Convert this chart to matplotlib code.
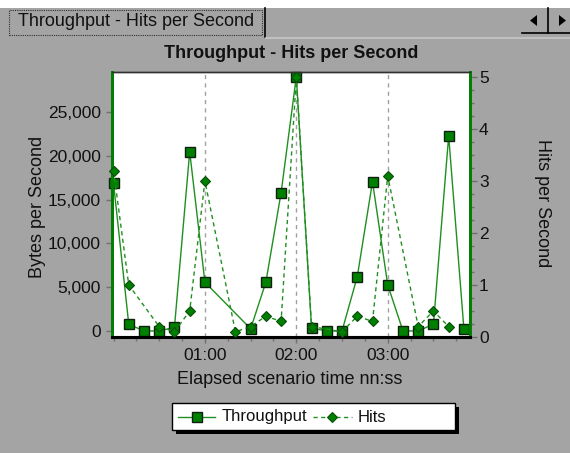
import matplotlib
matplotlib.use("Agg")
import matplotlib.pyplot as plt
from matplotlib.patches import Rectangle, Polygon
from matplotlib.lines import Line2D
from matplotlib.ticker import FixedLocator, MultipleLocator, FuncFormatter

# ---------------- data ----------------
times_throughput = [0, 10, 20, 30, 40, 50, 60, 90, 100, 110, 120, 130, 140, 150,
                    160, 170, 180, 190, 200, 210, 220, 230]
throughput = [16880, 770, 0, 0, 420, 20490, 5570, 250, 5570, 15800, 29060, 310, 0, 0,
              6200, 17060, 5260, 0, 0, 770, 22290, 230]

times_hits = [0, 10, 30, 40, 50, 60, 80, 90, 100, 110, 120, 130, 150, 160, 170,
              180, 200, 210, 220]
hits = [3.2, 1.0, 0.2, 0.1, 0.5, 3.0, 0.1, 0.2, 0.4, 0.3, 5.0, 0.2, 0.1, 0.4, 0.3,
        3.1, 0.2, 0.5, 0.2]

x_major_ticks = [60, 120, 180]
x_tick_labels = ["01:00", "02:00", "03:00"]
left_ticks = [0, 5000, 10000, 15000, 20000, 25000]
left_tick_labels = ["0", "5,000", "10,000", "15,000", "20,000", "25,000"]
right_ticks = [0, 1, 2, 3, 4, 5]

chart_title = "Throughput - Hits per Second"
tab_title = "Throughput - Hits per Second"
x_label = "Elapsed scenario time nn:ss"
y_left_label = "Bytes per Second"
y_right_label = "Hits per Second"
series_names = ["Throughput", "Hits"]

# ---------------- styling ----------------
W, H = 570, 453
BG = "#a4a4a4"
GREEN = "#008000"
LINE_GREEN = "#1f8f1f"
TXT = "#111111"
FONT = "Liberation Sans"
plt.rcParams["font.family"] = [FONT, "DejaVu Sans"]

fig = plt.figure(figsize=(W / 100, H / 100), dpi=100, facecolor=BG)


def P(x, y):
    return (x / W, 1 - y / H)


# plot area in pixels
L, R, T, B = 112, 470, 72, 337
ax = fig.add_axes([L / W, 1 - B / H, (R - L) / W, (B - T) / H])
ax.set_facecolor("white")
ax2 = ax.twinx()

ax.plot(times_throughput, throughput, color=LINE_GREEN, lw=1.0, ls="-",
        marker="s", markersize=7.5, markerfacecolor=GREEN,
        markeredgecolor="#102010", markeredgewidth=1.0, zorder=3, clip_on=False)
ax2.plot(times_hits, hits, color=LINE_GREEN, lw=1.0, ls=(0, (3, 2.5)),
         marker="D", markersize=5, markerfacecolor=GREEN,
         markeredgecolor="#0a4d0a", markeredgewidth=0.8, zorder=3, clip_on=False)

ax.set_xlim(-1, 234)
ax.set_ylim(-690, 29600)
ax2.set_ylim(0, 5.096)

ax.xaxis.set_major_locator(FixedLocator(x_major_ticks))
ax.set_xticklabels(x_tick_labels)
ax.xaxis.set_minor_locator(MultipleLocator(15))
ax.yaxis.set_major_locator(FixedLocator(left_ticks))
ax.set_yticklabels(left_tick_labels)
ax2.yaxis.set_major_locator(FixedLocator(right_ticks))
ax2.yaxis.set_minor_locator(MultipleLocator(0.25))

ax.grid(axis="x", which="major", color="#a0a0a0", ls=(0, (3, 3)), lw=1.0)
ax.set_axisbelow(True)

ax.tick_params(axis="x", which="major", length=4, width=1, color="#707070",
               labelsize=12.5, labelcolor=TXT, pad=4)
ax.tick_params(axis="x", which="minor", length=3, width=1, color="#707070")
ax.tick_params(axis="y", which="major", length=4, width=1, color="#707070",
               labelsize=12.5, labelcolor=TXT, pad=4)
ax2.tick_params(axis="y", which="major", length=5, width=1, color="#707070",
                labelsize=12.5, labelcolor=TXT, pad=1.5)
ax2.tick_params(axis="y", which="minor", length=3, width=1, color="#707070")

for a in (ax, ax2):
    a.spines["left"].set_color(GREEN)
    a.spines["left"].set_linewidth(2)
    a.spines["right"].set_color(GREEN)
    a.spines["right"].set_linewidth(2)
    a.spines["bottom"].set_color("black")
    a.spines["bottom"].set_linewidth(2.2)
    a.spines["top"].set_color("#303030")
    a.spines["top"].set_linewidth(1)

# texts
fig.text(*P(291, 53), chart_title, ha="center", va="center", fontsize=13,
         fontweight="bold", color=TXT)
fig.text(*P(38, 207), y_left_label, ha="center", va="center", rotation=90,
         fontsize=13, color=TXT)
fig.text(*P(543, 203), y_right_label, ha="center", va="center", rotation=270,
         fontsize=13, color=TXT)
fig.text(*P(290, 379), x_label, ha="center", va="center", fontsize=13, color=TXT)

# ---------- window chrome (top strip, tab, scroll buttons) ----------
def rect_px(x0, y0, x1, y1, **kw):
    r = Rectangle(P(x0, y1), (x1 - x0) / W, (y1 - y0) / H,
                  transform=fig.transFigure, **kw)
    fig.add_artist(r)
    return r


rect_px(0, 0, W, 8, facecolor="white", edgecolor="none", zorder=0)
# tab focus rectangle (dotted)
rect_px(9, 9.5, 262, 34.5, facecolor="none", edgecolor="#303030", lw=0.8,
        ls=(0, (1, 1)), zorder=2)
fig.text(*P(18, 21), tab_title, ha="left", va="center", fontsize=13, color=TXT)
fig.add_artist(Line2D([265 / W, 265 / W], [1 - 8 / H, 1 - 37 / H],
                      transform=fig.transFigure, color="black", lw=1.2))
fig.add_artist(Line2D([266 / W, 1], [1 - 37.5 / H, 1 - 37.5 / H],
                      transform=fig.transFigure, color="#c8c8c8", lw=1.2))
# scroll buttons
fig.add_artist(Line2D([522 / W, 1], [1 - 33 / H, 1 - 33 / H],
                      transform=fig.transFigure, color="black", lw=1.2))
fig.add_artist(Line2D([548.3 / W, 548.3 / W], [1 - 8 / H, 1 - 33 / H],
                      transform=fig.transFigure, color="black", lw=1.2))
fig.add_artist(Polygon([P(530, 20.5), P(537, 15), P(537, 26)], closed=True,
                       transform=fig.transFigure, facecolor="black", edgecolor="none"))
fig.add_artist(Polygon([P(559, 15), P(566, 20.5), P(559, 26)], closed=True,
                       transform=fig.transFigure, facecolor="black", edgecolor="none"))

# ---------- legend (box with shadow) ----------
LG_L, LG_R, LG_T, LG_B = 172, 455, 403, 430
rect_px(LG_L + 4, LG_T + 4, LG_R + 4, LG_B + 4, facecolor="black",
        edgecolor="none", zorder=1)
rect_px(LG_L, LG_T, LG_R, LG_B, facecolor="white", edgecolor="black", lw=1,
        zorder=2)
ly = 1 - 417 / H
fig.add_artist(Line2D([178 / W, 215 / W], [ly, ly], transform=fig.transFigure,
                      color=LINE_GREEN, lw=1.0, zorder=3))
fig.add_artist(Line2D([197 / W], [ly], transform=fig.transFigure, ls="none",
                      marker="s", markersize=7.5, markerfacecolor=GREEN,
                      markeredgecolor="#102010", markeredgewidth=1.0, zorder=4))
fig.text(222 / W, ly, series_names[0], ha="left", va="center", fontsize=12,
         color=TXT, zorder=4)
fig.add_artist(Line2D([313 / W, 352 / W], [ly, ly], transform=fig.transFigure,
                      color=LINE_GREEN, lw=1.0, ls=(0, (3, 2.5)), zorder=3))
fig.add_artist(Line2D([332 / W], [ly], transform=fig.transFigure, ls="none",
                      marker="D", markersize=5, markerfacecolor=GREEN,
                      markeredgecolor="#0a4d0a", markeredgewidth=0.8, zorder=4))
fig.text(358 / W, ly, series_names[1], ha="left", va="center", fontsize=12,
         color=TXT, zorder=4)

fig.savefig("out.png", dpi=100, facecolor=BG)
